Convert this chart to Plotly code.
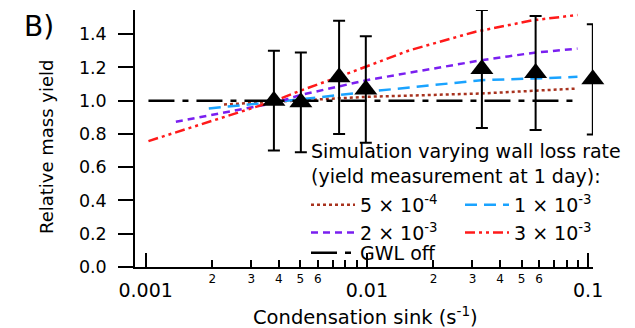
import plotly.graph_objects as go

# ---- data ----
cs_meas = [0.0038, 0.00503, 0.00749, 0.00989, 0.0331, 0.0579, 0.105]
yield_meas = [1.00, 0.99, 1.14, 1.067, 1.19, 1.166, 1.128]
yield_err = [0.30, 0.30, 0.34, 0.32, 0.355, 0.343, 0.331]

cs_5e4 = [0.00226, 0.00498, 0.00996, 0.0329, 0.0895]
y_5e4 = [0.977, 1.003, 1.023, 1.043, 1.073]

cs_1e3 = [0.00193, 0.0038, 0.00498, 0.00996, 0.0329, 0.0561, 0.0895]
y_1e3 = [0.953, 0.993, 1.007, 1.053, 1.123, 1.133, 1.143]

cs_2e3 = [0.00137, 0.0038, 0.00498, 0.00612, 0.00996, 0.0329, 0.0561, 0.0895]
y_2e3 = [0.873, 0.985, 1.033, 1.059, 1.123, 1.243, 1.287, 1.313]

cs_3e3 = [0.00103, 0.0038, 0.00498, 0.00747, 0.0156, 0.0307, 0.0561, 0.0895]
y_3e3 = [0.757, 0.997, 1.059, 1.143, 1.303, 1.413, 1.483, 1.515]

cs_gwl = [0.00103, 0.0895]
y_gwl = [1.0, 1.0]

y_ticks = [0.0, 0.2, 0.4, 0.6, 0.8, 1.0, 1.2, 1.4]
x_major = [0.001, 0.01, 0.1]
x_major_text = ["0.001", "0.01", "0.1"]
x_minor_mult = [2, 3, 4, 5, 6, 7, 8, 9]
x_minor_label_mult = [2, 3, 4, 5, 6]

FONT = "DejaVu Sans"

fig = go.Figure()

# (x, y, name, colour, dash, legend)
series = [
    (cs_5e4, y_5e4, "5 × 10<sup>-4</sup>", "#a8321e", "dot", "legend"),
    (cs_1e3, y_1e3, "1 × 10<sup>-3</sup>", "#1aa3ff", "12px,7px", "legend2"),
    (cs_2e3, y_2e3, "2 × 10<sup>-3</sup>", "#7a1ff0", "7px,5px", "legend"),
    (cs_3e3, y_3e3, "3 × 10<sup>-3</sup>", "#ff1a1a", "10px,4px,3px,4px,3px,4px", "legend2"),
    (cs_gwl, y_gwl, "GWL off", "black", "26px,8px,6px,8px", "legend3"),
]
for xs, ys, name, col, dash, leg in series:
    fig.add_trace(go.Scatter(x=xs, y=ys, mode="lines", name=name, legend=leg,
                             line=dict(color=col, width=2.5, dash=dash)))

fig.add_trace(go.Scatter(x=cs_meas, y=yield_meas, mode="markers", showlegend=False,
                         marker=dict(symbol="triangle-up", size=20, color="black"),
                         error_y=dict(type="data", array=yield_err, color="black",
                                      thickness=2, width=6),
                         cliponaxis=False))

# helper trace so the label-only overlay axis is drawn
fig.add_trace(go.Scatter(x=[0.002], y=[None], xaxis="x2", mode="lines",
                         showlegend=False, hoverinfo="skip"))

minor_vals = [m * d for d in [0.001, 0.01] for m in x_minor_mult]
minor_lab_vals = [m * d for d in [0.001, 0.01] for m in x_minor_label_mult]
minor_lab_text = [str(m) for d in [0.001, 0.01] for m in x_minor_label_mult]

xr = [-3.048, -0.978]
L, R, T, B = 135, 42, 10, 61
W, H = 635, 328
pw, ph = W - L - R, H - T - B


def px_x(p):
    return (p - L) / pw


def px_y(p):
    return (H - B - p) / ph


leg_common = dict(orientation="v", xanchor="left", yanchor="top",
                  bgcolor="rgba(0,0,0,0)", font=dict(size=19, family=FONT),
                  itemwidth=44, tracegroupgap=0)

fig.update_layout(
    width=W, height=H,
    margin=dict(l=L, r=R, t=T, b=B, autoexpand=False),
    paper_bgcolor="white", plot_bgcolor="white",
    font=dict(family=FONT, color="black"),
    xaxis=dict(type="log", range=xr, tickvals=x_major, ticktext=x_major_text,
               ticks="inside", ticklen=14, tickwidth=1.5, tickcolor="black",
               showline=True, linecolor="black", linewidth=1.5,
               showgrid=False, zeroline=False, tickfont=dict(size=19),
               ticklabelstandoff=5, automargin=False,
               minor=dict(tickvals=minor_vals, ticks="inside", ticklen=7,
                          tickwidth=1.5, tickcolor="black", showgrid=False)),
    xaxis2=dict(type="log", range=xr, overlaying="x", anchor="y", side="bottom",
                tickvals=minor_lab_vals, ticktext=minor_lab_text, ticks="",
                showline=False, showgrid=False, zeroline=False, automargin=False,
                ticklabelstandoff=3, tickfont=dict(size=12)),
    yaxis=dict(range=[0, 1.545], tickvals=y_ticks, tickformat=".1f",
               ticks="outside", ticklen=15, tickwidth=1.5, tickcolor="black",
               showline=True, linecolor="black", linewidth=1.5,
               showgrid=False, zeroline=False, tickfont=dict(size=17.5),
               ticklabelstandoff=8, automargin=False),
    legend=dict(x=px_x(306), y=px_y(186), **leg_common),
    legend2=dict(x=px_x(460), y=px_y(186), **leg_common),
    legend3=dict(x=px_x(306), y=px_y(234), **leg_common),
    annotations=[
        dict(text="B)", xref="paper", yref="paper", x=px_x(22), y=px_y(27),
             xanchor="left", yanchor="middle", showarrow=False, font=dict(size=28)),
        dict(text="Simulation varying wall loss rate<br>(yield measurement at 1 day):",
             xref="paper", yref="paper", x=px_x(309), y=px_y(163), align="left",
             xanchor="left", yanchor="middle", showarrow=False, font=dict(size=19)),
        dict(text="Relative mass yield", xref="paper", yref="paper",
             x=px_x(46), y=px_y(147), textangle=-90, xanchor="center",
             yanchor="middle", showarrow=False, font=dict(size=18)),
        dict(text="Condensation sink (s<sup>-1</sup>)", xref="paper", yref="paper",
             x=px_x(365), y=px_y(316), xanchor="center", yanchor="middle",
             showarrow=False, font=dict(size=19.5)),
    ],
)

fig.write_html("out.html")
